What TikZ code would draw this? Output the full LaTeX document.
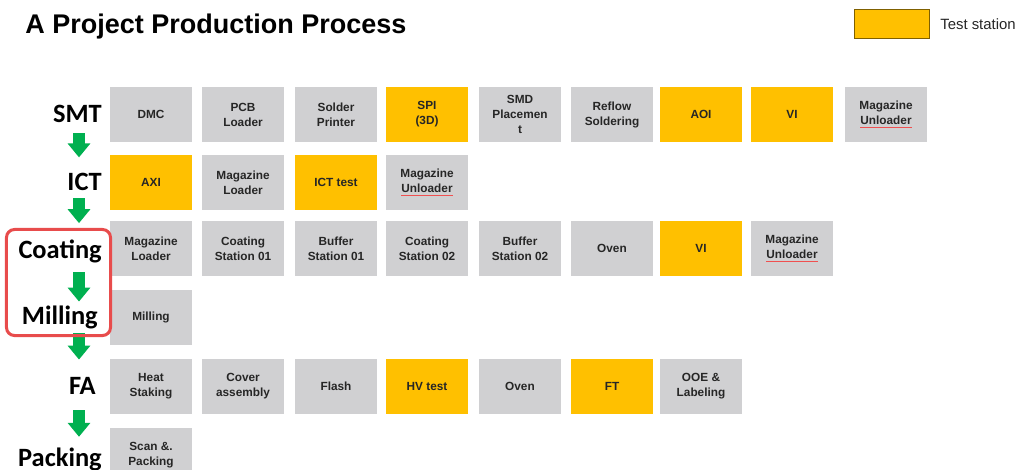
\documentclass[tikz,border=0pt]{standalone}
\usepackage{fontspec}
\setmainfont{Liberation Sans}
\newfontfamily\stagefont{Carlito}
\usepackage{tikz}
\usetikzlibrary{arrows.meta}

\definecolor{boxgrey}{RGB}{208,208,210}
\definecolor{testyellow}{RGB}{255,192,0}
\definecolor{legendedge}{RGB}{127,96,0}
\definecolor{stagegreen}{RGB}{0,176,80}
\definecolor{framered}{RGB}{232,76,76}
\definecolor{boxtext}{RGB}{38,38,38}
\definecolor{spellred}{RGB}{240,80,80}

\newcommand{\spellmark}[1]{\setbox0\hbox{#1}\rlap{\color{spellred}\rule[-2.4pt]{\wd0}{0.55pt}}\box0}

\tikzset{
    station/.style={shape=rectangle, fill=boxgrey, minimum width=2.05cm, minimum height=1.375cm,
        inner sep=0pt, align=center, text=boxtext, font=\fontsize{8.4}{10.7}\selectfont\bfseries},
    test/.style={station, fill=testyellow},
    stage/.style={anchor=base east, inner sep=0pt, font=\stagefont\fontsize{18.8}{20}\selectfont\bfseries},
    stagearrow/.style={draw=stagegreen, line width=0.32cm, -{Triangle[width=0.55cm, length=0.35cm]}},
    stageframe/.style={shape=rectangle, draw=framered, line width=0.075cm, rounded corners=0.2cm,
        minimum width=2.6cm, minimum height=2.65cm, inner sep=0pt},
    legendbox/.style={shape=rectangle, fill=testyellow, draw=legendedge, line width=0.6pt,
        minimum width=1.875cm, minimum height=0.725cm, inner sep=0pt}}

\begin{document}
\begin{tikzpicture}[x=0.025cm, y=-0.025cm]

                    \useasboundingbox (0,0) rectangle (1019,469);

                    \node[anchor=base west, inner sep=0pt, font=\fontsize{19.2}{22}\selectfont\bfseries] (title) at (25,33) {A Project Production Process};
                    \node[legendbox] (legend) at (891.5,23.5) {};
                    \node[anchor=west, inner sep=0pt, font=\fontsize{10.6}{12}\selectfont, text=boxtext] (legendtext) at (940,24) {Test station};

                    \node[stage] (SMT) at (102,122) {SMT};
                    \node[stage] (ICT) at (102,190) {ICT};
                    \node[stage] (Coating) at (102,258) {Coating};
                    \node[stage] (Milling) at (98,324) {Milling};
                    \node[stage] (FA) at (96,394) {FA};
                    \node[stage] (Packing) at (102,466) {Packing};
                    \coordinate (arrx) at (79,0);

                    \node[station] (S1) at (151,114.5) {DMC};
                    \node[station] (S2) at (243,114.5) {PCB\\Loader};
                    \node[station] (S3) at (336,114.5) {Solder\\Printer};
                    \node[test] (S4) at (427,114.5) {SPI\\(3D)};
                    \node[station] (S5) at (520,114.5) {SMD\\Placemen\\t};
                    \node[station] (S6) at (612,114.5) {Reflow\\Soldering};
                    \node[test] (S7) at (701,114.5) {AOI};
                    \node[test] (S8) at (792,114.5) {VI};
                    \node[station] (S9) at (886,114.5) {Magazine\\\spellmark{Unloader}};

                    \node[test] (I1) at (151,182.5) {AXI};
                    \node[station] (I2) at (243,182.5) {Magazine\\Loader};
                    \node[test] (I3) at (336,182.5) {ICT test};
                    \node[station] (I4) at (427,182.5) {Magazine\\\spellmark{Unloader}};

                    \node[station] (C1) at (151,248.5) {Magazine\\Loader};
                    \node[station] (C2) at (243,248.5) {Coating\\Station 01};
                    \node[station] (C3) at (336,248.5) {Buffer\\Station 01};
                    \node[station] (C4) at (427,248.5) {Coating\\Station 02};
                    \node[station] (C5) at (520,248.5) {Buffer\\Station 02};
                    \node[station] (C6) at (612,248.5) {Oven};
                    \node[test] (C7) at (701,248.5) {VI};
                    \node[station] (C8) at (792,248.5) {Magazine\\\spellmark{Unloader}};

                    \node[station] (M1) at (151,317) {Milling};

                    \node[station] (F1) at (151,386.5) {Heat\\Staking};
                    \node[station] (F2) at (243,386.5) {Cover\\assembly};
                    \node[station] (F3) at (336,386.5) {Flash};
                    \node[test] (F4) at (427,386.5) {HV test};
                    \node[station] (F5) at (520,386.5) {Oven};
                    \node[test] (F6) at (612,386.5) {FT};
                    \node[station] (F7) at (701,386.5) {OOE \&\\Labeling};

                    \node[station] (P1) at (151,455.5) {Scan \&.\\Packing};

                    \draw[stagearrow, shorten <=0.275cm, shorten >=0.375cm] (SMT.south -| arrx) -- (ICT.north -| arrx);
                    \draw[stagearrow, shorten <=0.2cm, shorten >=0.4cm] (ICT.south -| arrx) -- (Coating.north -| arrx);
                    \draw[stagearrow, shorten <=0.24cm, shorten >=0.09cm] (Coating.south -| arrx) -- (Milling.north -| arrx);
                    \draw[stagearrow, shorten <=0.11cm, shorten >=0.425cm] (Milling.south -| arrx) -- (FA.north -| arrx);
                    \draw[stagearrow, shorten <=0.4cm, shorten >=0.26cm] (FA.south -| arrx) -- (Packing.north -| arrx);

                    \node[stageframe] (frame) at (58.5,282.5) {};

                \end{tikzpicture}
\end{document}
